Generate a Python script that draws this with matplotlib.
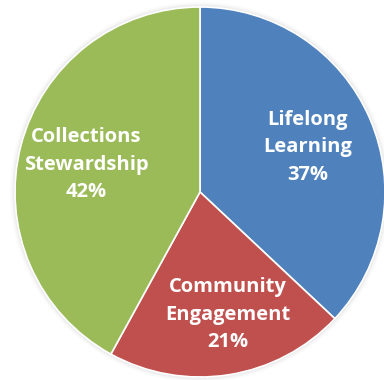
import matplotlib
matplotlib.use("Agg")
import matplotlib.pyplot as plt
import numpy as np

categories = ["Lifelong\nLearning", "Community\nEngagement", "Collections\nStewardship"]
values = [37, 21, 42]
colors = ["#4F81BD", "#C0504D", "#9BBB59"]

# label placement (radius fraction, angle in degrees)
label_pos = [(0.63, 22.6), (0.68, -77), (0.63, 166.6)]

fig = plt.figure(figsize=(3.84, 3.80), dpi=100)
ax = fig.add_axes([0, 0, 1, 1])
R = 185.0

# soft shadow
for i, a in enumerate(np.linspace(0.06, 0.01, 5)):
    ax.add_patch(plt.Circle((0, 0), 1 + 0.006 * (i + 1), color="#808080", alpha=a, lw=0, zorder=0))

ax.pie(values, colors=colors, startangle=90, counterclock=False, radius=1,
       wedgeprops=dict(edgecolor="white", linewidth=1.2))

for cat, v, (r, ang) in zip(categories, values, label_pos):
    t = np.deg2rad(ang)
    ax.text(r * np.cos(t), r * np.sin(t), f"{cat}\n{v}%", ha="center", va="center",
            color="white", fontsize=14.5, fontweight="bold", family="Open Sans",
            linespacing=1.5)

ax.set_xlim(-200 / R, 184 / R)
ax.set_ylim(-188 / R, 192 / R)
ax.set_aspect("equal")
ax.axis("off")

fig.savefig("out.png", dpi=100)
